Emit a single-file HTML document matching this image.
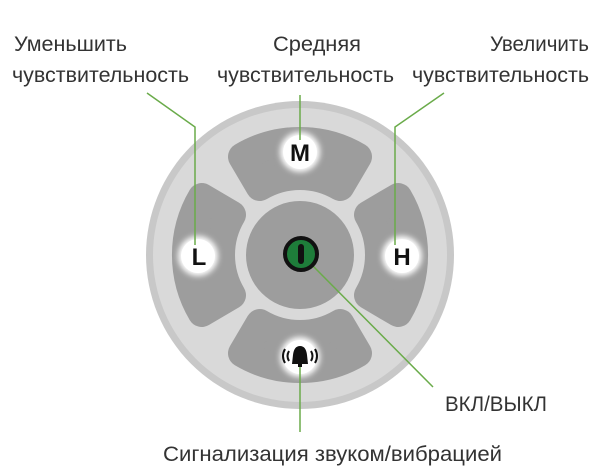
<!DOCTYPE html>
<html><head><meta charset="utf-8"><style>
html,body{margin:0;padding:0;background:#fff;}
svg{display:block;}
text{font-family:"Liberation Sans",sans-serif;fill:#333;}
</style></head><body>
<svg width="600" height="473" viewBox="0 0 600 473">
<defs>
<filter id="glow" x="-50%" y="-50%" width="200%" height="200%"><feGaussianBlur stdDeviation="3"/></filter>
</defs>
<circle cx="300" cy="255" r="154" fill="#c8c8c8"/>
<circle cx="300" cy="255" r="147" fill="#d9d9d9"/>
<circle cx="300" cy="255" r="54" fill="#9d9d9d"/>
<g fill="#9d9d9d" stroke="#9d9d9d" stroke-width="28" stroke-linejoin="round">
<path d="M242,156.8 A114,114 0 0 1 358,156.8 L340.2,187 A79,79 0 0 0 259.8,187 Z"/>
<path d="M242,156.8 A114,114 0 0 1 358,156.8 L340.2,187 A79,79 0 0 0 259.8,187 Z" transform="rotate(90 300 255)"/>
<path d="M242,156.8 A114,114 0 0 1 358,156.8 L340.2,187 A79,79 0 0 0 259.8,187 Z" transform="rotate(180 300 255)"/>
<path d="M242,156.8 A114,114 0 0 1 358,156.8 L340.2,187 A79,79 0 0 0 259.8,187 Z" transform="rotate(270 300 255)"/>
</g>
<g fill="#fff">
<circle cx="300" cy="152" r="20" filter="url(#glow)"/>
<circle cx="198" cy="256" r="20" filter="url(#glow)"/>
<circle cx="402" cy="256" r="20" filter="url(#glow)"/>
<circle cx="300" cy="357" r="20" filter="url(#glow)"/>
<circle cx="300" cy="152" r="17"/>
<circle cx="198" cy="256" r="17"/>
<circle cx="402" cy="256" r="17"/>
<circle cx="300" cy="357" r="17"/>
</g>
<g stroke="#6aab4a" stroke-width="1.5" fill="none">
<polyline points="147,93 195,127 195,245"/>
<polyline points="444,93 395,127 395,245"/>
<line x1="300" y1="95" x2="300" y2="140"/>
<line x1="313" y1="266" x2="433" y2="387"/>
<line x1="300" y1="360" x2="300" y2="432"/>
</g>
<g font-weight="bold" font-size="24" text-anchor="middle">
<text x="300" y="161" style="fill:#111">M</text>
<text x="199" y="265" style="fill:#111">L</text>
<text x="402" y="265" style="fill:#111">H</text>
</g>
<circle cx="301" cy="254" r="16" fill="#1e7d3a" stroke="#111" stroke-width="4"/>
<rect x="298" y="244" width="6" height="20" rx="3" fill="#111"/>
<g fill="#111">
<path d="M292,364 L293,355 Q294,346 300,346 Q306,346 307,355 L308,364 Z"/>
<rect x="298" y="364" width="4" height="3"/>
</g>
<g stroke="#111" stroke-width="2" fill="none">
<path d="M289,351 Q286,356 289,361"/><path d="M285,349 Q281,356 285,363"/>
<path d="M311,351 Q314,356 311,361"/><path d="M315,349 Q319,356 315,363"/>
</g>
<g font-size="21">
<text x="14" y="51" textLength="113" lengthAdjust="spacingAndGlyphs">Уменьшить</text>
<text x="12" y="82" textLength="177" lengthAdjust="spacingAndGlyphs">чувствительность</text>
<text x="273" y="51" textLength="88" lengthAdjust="spacingAndGlyphs">Средняя</text>
<text x="217" y="82" textLength="177" lengthAdjust="spacingAndGlyphs">чувствительность</text>
<text x="490" y="51" textLength="99" lengthAdjust="spacingAndGlyphs">Увеличить</text>
<text x="412" y="82" textLength="177" lengthAdjust="spacingAndGlyphs">чувствительность</text>
<text x="445" y="411" textLength="102" lengthAdjust="spacingAndGlyphs">ВКЛ/ВЫКЛ</text>
<text x="163" y="461" textLength="339" lengthAdjust="spacingAndGlyphs">Сигнализация звуком/вибрацией</text>
</g>
</svg>
</body></html>
